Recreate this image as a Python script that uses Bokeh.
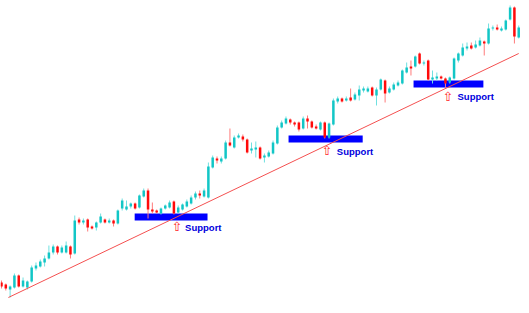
from bokeh.plotting import figure
from bokeh.models import ColumnDataSource, Range1d
from bokeh.embed import file_html
from bokeh.resources import INLINE
from bokeh.core.properties import value

# ---- candle data (price units) ----
opens = [31, 29, 24, 26, 38, 27, 26, 32, 45, 47, 51, 55, 61, 67, 61, 61, 67, 60, 94, 91,
         94, 87, 86, 91, 94, 91, 93, 90, 105, 104, 107, 110, 106, 117, 123, 104, 103, 100, 105, 106,
         112, 101, 104, 107, 110, 116, 120, 117, 116, 146, 155, 152, 155, 171, 166, 176, 177, 174, 163, 164,
         166, 156, 157, 160, 170, 186, 190, 194, 191, 191, 185, 195, 192, 187, 184, 191, 176, 189, 212, 215,
         213, 216, 214, 218, 223, 222, 226, 218, 224, 233, 221, 224, 228, 230, 241, 247, 247, 260, 250, 253,
         234, 235, 237, 235, 231, 235, 253, 258, 265, 268, 266, 268, 272, 270, 285, 286, 283, 284, 294, 306,
         276]
closes = [27, 25, 27, 38, 27, 33, 32, 46, 48, 52, 55, 61, 67, 61, 66, 68, 59, 93, 91, 93,
          86, 85, 91, 97, 91, 93, 90, 103, 113, 107, 110, 105, 118, 123, 104, 102, 101, 105, 108, 111,
          100, 106, 109, 112, 116, 120, 118, 123, 147, 156, 153, 155, 171, 168, 176, 178, 174, 161, 165, 166,
          155, 158, 161, 171, 186, 191, 195, 191, 189, 184, 195, 192, 186, 185, 191, 176, 190, 213, 215, 212,
          215, 213, 219, 224, 225, 225, 218, 224, 234, 220, 225, 229, 231, 243, 246, 245, 257, 250, 251, 234,
          236, 237, 235, 230, 236, 255, 260, 266, 267, 265, 269, 273, 270, 285, 286, 284, 285, 293, 306, 277,
          286]
highs = [33, 30, 28, 40, 39, 36, 33, 48, 51, 54, 58, 68, 69, 68, 68, 72, 68, 98, 96, 95,
         95, 88, 92, 100, 95, 95, 94, 104, 115, 113, 111, 111, 119, 125, 125, 111, 104, 106, 109, 113,
         113, 108, 110, 114, 118, 122, 123, 125, 151, 158, 157, 157, 173, 185, 178, 180, 179, 175, 171, 172,
         167, 160, 163, 173, 188, 193, 197, 195, 192, 192, 197, 198, 193, 189, 192, 192, 191, 215, 217, 216,
         217, 225, 221, 228, 227, 227, 227, 226, 235, 234, 227, 231, 233, 244, 251, 253, 258, 261, 253, 254,
         243, 241, 238, 236, 237, 256, 261, 270, 271, 271, 273, 276, 273, 290, 288, 289, 287, 294, 308, 307,
         288]
lows = [25, 23, 16, 25, 26, 26, 24, 31, 43, 46, 47, 54, 59, 59, 60, 60, 55, 59, 89, 89,
        82, 84, 83, 90, 90, 90, 87, 89, 103, 103, 105, 104, 105, 116, 95, 100, 100, 99, 104, 105,
        99, 100, 103, 106, 109, 114, 115, 116, 115, 145, 150, 150, 154, 167, 165, 175, 172, 160, 160, 156,
        154, 151, 156, 159, 169, 185, 189, 189, 187, 182, 184, 185, 185, 184, 183, 175, 175, 188, 210, 211,
        212, 212, 213, 213, 221, 221, 217, 208, 223, 211, 220, 223, 227, 229, 240, 238, 246, 249, 248, 233,
        230, 233, 234, 226, 230, 234, 251, 257, 263, 264, 265, 267, 258, 269, 283, 283, 282, 283, 293, 270,
        275]

# ---- trend line ----
trend_x = [1.6, 120.0]
trend_y = [16, 260]

# ---- support zones ----
support_start = [30.9, 66.6, 95.6]
support_end = [47.8, 83.8, 111.8]
support_low = [93, 171, 226]
support_high = [100, 178, 233]

# ---- labels ----
label_texts = ["Support", "Support", "Support"]
arrow_x = [40.7, 75.5, 103.6]
arrow_y = [87, 163, 217]
label_x = [42.6, 77.8, 105.8]
label_y = [86.5, 162.5, 217]

UP = "#12c6c6"
DOWN = "#ff0a0a"
UP_WICK = "#6fe0e0"
DOWN_WICK = "#ff7a7a"

n = len(opens)
idx = list(range(n))
up = [c >= o for o, c in zip(opens, closes)]
src = ColumnDataSource(dict(
    x=idx,
    top=[max(o, c) for o, c in zip(opens, closes)],
    bottom=[min(o, c) for o, c in zip(opens, closes)],
    high=highs, low=lows,
    color=[UP if u else DOWN for u in up],
    wick=[UP_WICK if u else DOWN_WICK for u in up],
))

p = figure(width=529, height=313, output_backend="svg", toolbar_location=None,
           x_range=Range1d(-0.23, 122.5), y_range=Range1d(0, 313),
           x_axis_type=None, y_axis_type=None,
           min_border=0, min_border_left=0, min_border_right=0,
           min_border_top=0, min_border_bottom=0)
p.grid.visible = False
p.outline_line_color = None
p.background_fill_color = "white"
p.border_fill_color = "white"

# support bars
p.quad(left=support_start, right=support_end, bottom=support_low, top=support_high,
       fill_color="#0000ff", line_color=None)

# candles
p.segment(x0="x", x1="x", y0="low", y1="high", line_color="wick", line_width=1, source=src)
p.vbar(x="x", width=0.58, top="top", bottom="bottom", fill_color="color", line_color=None, source=src)

# trend line
p.line(trend_x, trend_y, line_color="#f45050", line_width=1)

# arrows and labels
p.text(x=arrow_x, y=arrow_y, text=["⇧"] * 3, text_color="#ff2828",
       text_font=value("DejaVu Sans"), text_font_size="13px",
       text_align="center", text_baseline="middle")
p.text(x=label_x, y=label_y, text=label_texts, text_color="#0000dd",
       text_font=value("Liberation Sans"), text_font_size="9.5px", text_font_style="bold",
       text_align="left", text_baseline="middle")

open("out.html", "w").write(file_html(p, INLINE))
